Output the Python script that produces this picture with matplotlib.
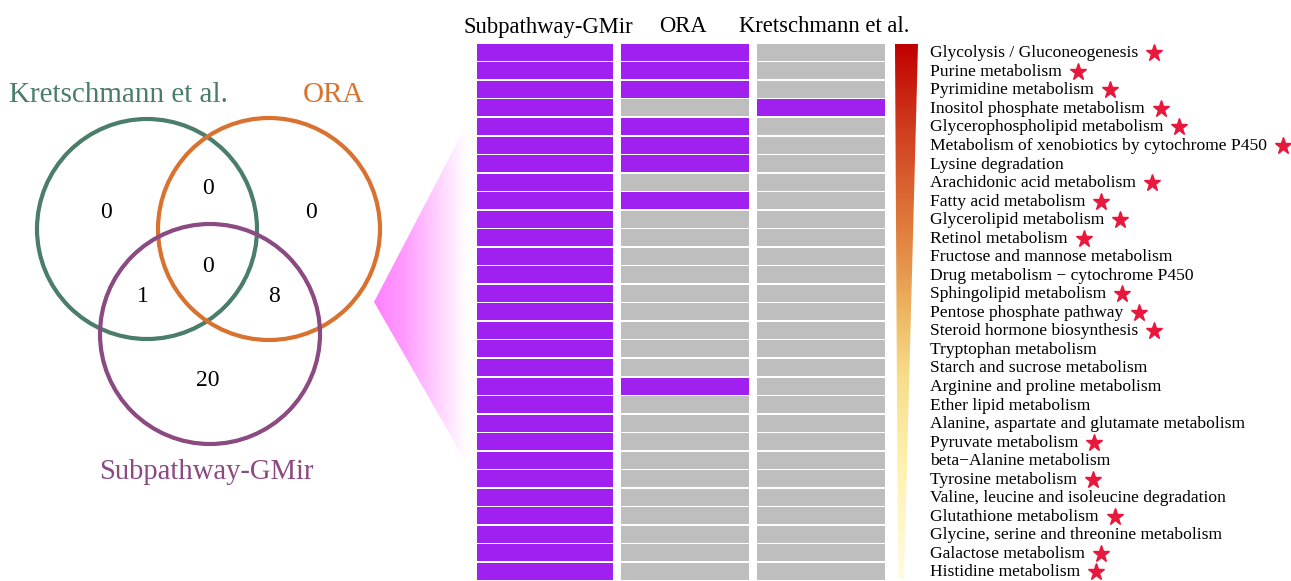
import numpy as np
import matplotlib
matplotlib.use("Agg")
import matplotlib.pyplot as plt
from matplotlib.patches import Circle, Polygon
from matplotlib.colors import LinearSegmentedColormap

plt.rcParams['font.family'] = ['Liberation Serif', 'DejaVu Serif']

# pathways (top to bottom) and membership per method
pathways = [
    "Glycolysis / Gluconeogenesis", "Purine metabolism", "Pyrimidine metabolism",
    "Inositol phosphate metabolism", "Glycerophospholipid metabolism",
    "Metabolism of xenobiotics by cytochrome P450", "Lysine degradation",
    "Arachidonic acid metabolism", "Fatty acid metabolism", "Glycerolipid metabolism",
    "Retinol metabolism", "Fructose and mannose metabolism",
    "Drug metabolism \u2212 cytochrome P450", "Sphingolipid metabolism",
    "Pentose phosphate pathway", "Steroid hormone biosynthesis",
    "Tryptophan metabolism", "Starch and sucrose metabolism",
    "Arginine and proline metabolism", "Ether lipid metabolism",
    "Alanine, aspartate and glutamate metabolism", "Pyruvate metabolism",
    "beta\u2212Alanine metabolism", "Tyrosine metabolism",
    "Valine, leucine and isoleucine degradation", "Glutathione metabolism",
    "Glycine, serine and threonine metabolism", "Galactose metabolism",
    "Histidine metabolism",
]
methods = ["Subpathway-GMir", "ORA", "Kretschmann et al."]
subpathway = [1] * 29
ora = [1, 1, 1, 0, 1, 1, 1, 0, 1, 0, 0, 0, 0, 0, 0, 0, 0, 0, 1, 0, 0, 0, 0, 0, 0, 0, 0, 0, 0]
kretschmann = [0, 0, 0, 1, 0, 0, 0, 0, 0, 0, 0, 0, 0, 0, 0, 0, 0, 0, 0, 0, 0, 0, 0, 0, 0, 0, 0, 0, 0]
starred = [1, 1, 1, 1, 1, 1, 0, 1, 1, 1, 1, 0, 0, 1, 1, 1, 0, 0, 0, 0, 0, 1, 0, 1, 0, 1, 0, 1, 1]

S = np.array(subpathway, bool)
O = np.array(ora, bool)
K = np.array(kretschmann, bool)

fig = plt.figure(figsize=(12.91, 5.81), dpi=100)
ax = fig.add_axes([0, 0, 1, 1])
ax.set_xlim(0, 1291)
ax.set_ylim(581, 0)
ax.axis('off')

# ---- Venn diagram ----
green, orange, violet = '#4a7d6a', '#d9712f', '#8b4a82'
ax.add_patch(Circle((147, 229), 110, fill=False, ec=green, lw=3))
ax.add_patch(Circle((269, 229), 111, fill=False, ec=orange, lw=3))
ax.add_patch(Circle((210, 334), 110, fill=False, ec=violet, lw=3))
ax.text(118, 95, "Kretschmann et al.", color=green, fontsize=21, ha='center', va='center')
ax.text(333, 95, "ORA", color=orange, fontsize=21, ha='center', va='center')
ax.text(206, 472, "Subpathway-GMir", color=violet, fontsize=20.6, ha='center', va='center')

regions = {
    (106, 213): K & ~O & ~S,
    (208, 189): K & O & ~S,
    (311, 213): O & ~K & ~S,
    (208, 266): K & O & S,
    (143, 296): K & S & ~O,
    (274, 296): O & S & ~K,
    (208, 380): S & ~K & ~O,
}
for (x, y), mask in regions.items():
    ax.text(x, y, str(int(mask.sum())), fontsize=17, ha='center', va='center')

# ---- pink zoom wedge ----
wedge = Polygon([(374, 302), (467, 124), (467, 464)], closed=True, fc='none', ec='none')
ax.add_patch(wedge)
pink = LinearSegmentedColormap.from_list('pink', ['#ff80ff', '#ff9cff', '#ffcfff', '#ffffff'])
im = ax.imshow(np.linspace(0, 1, 256)[None, :], cmap=pink, aspect='auto',
               extent=[374, 467, 464, 124], zorder=1)
im.set_clip_path(wedge)

# ---- heatmap ----
row_y = 52.3 + np.arange(len(pathways)) * 18.54
col_left = [477, 621, 757]
col_w = [136, 128, 128]
col_centers = [548, 683, 824]
for j, member in enumerate([subpathway, ora, kretschmann]):
    colors = ['#a020f0' if m else '#bebebe' for m in member]
    ax.barh(row_y, col_w[j], left=col_left[j], height=17, color=colors, zorder=2)
    ax.text(col_centers[j], 27, methods[j], fontsize=16.3, ha='center', va='center')

# ---- gradient bar ----
bar = Polygon([(895, 44), (918, 44), (904, 579), (898, 579)], closed=True, fc='none', ec='none')
ax.add_patch(bar)
heat = LinearSegmentedColormap.from_list('heat', [(0, '#c00000'), (0.15, '#cf3a1e'),
                                                  (0.3, '#dd6e36'), (0.42, '#e6964c'),
                                                  (0.52, '#efbd68'), (0.62, '#f7dc8a'),
                                                  (0.78, '#fff1ac'), (1, '#fffbe4')])
gb = ax.imshow(np.linspace(0, 1, 256)[:, None], cmap=heat, aspect='auto',
               extent=[893, 920, 579, 44], zorder=2)
gb.set_clip_path(bar)

# ---- pathway labels and stars ----
labels = []
for y, name in zip(row_y, pathways):
    labels.append(ax.text(930, y + 1, name, fontsize=12.6, ha='left', va='center'))
fig.canvas.draw()
renderer = fig.canvas.get_renderer()
inv = ax.transData.inverted()
for t, y, s in zip(labels, row_y, starred):
    if s:
        x_end = inv.transform(t.get_window_extent(renderer))[1][0]
        ax.plot(x_end + 16, y + 1, marker='*', ms=12.5, color='#e8173c', mec='#e8173c')

fig.savefig('out.png', dpi=100)
